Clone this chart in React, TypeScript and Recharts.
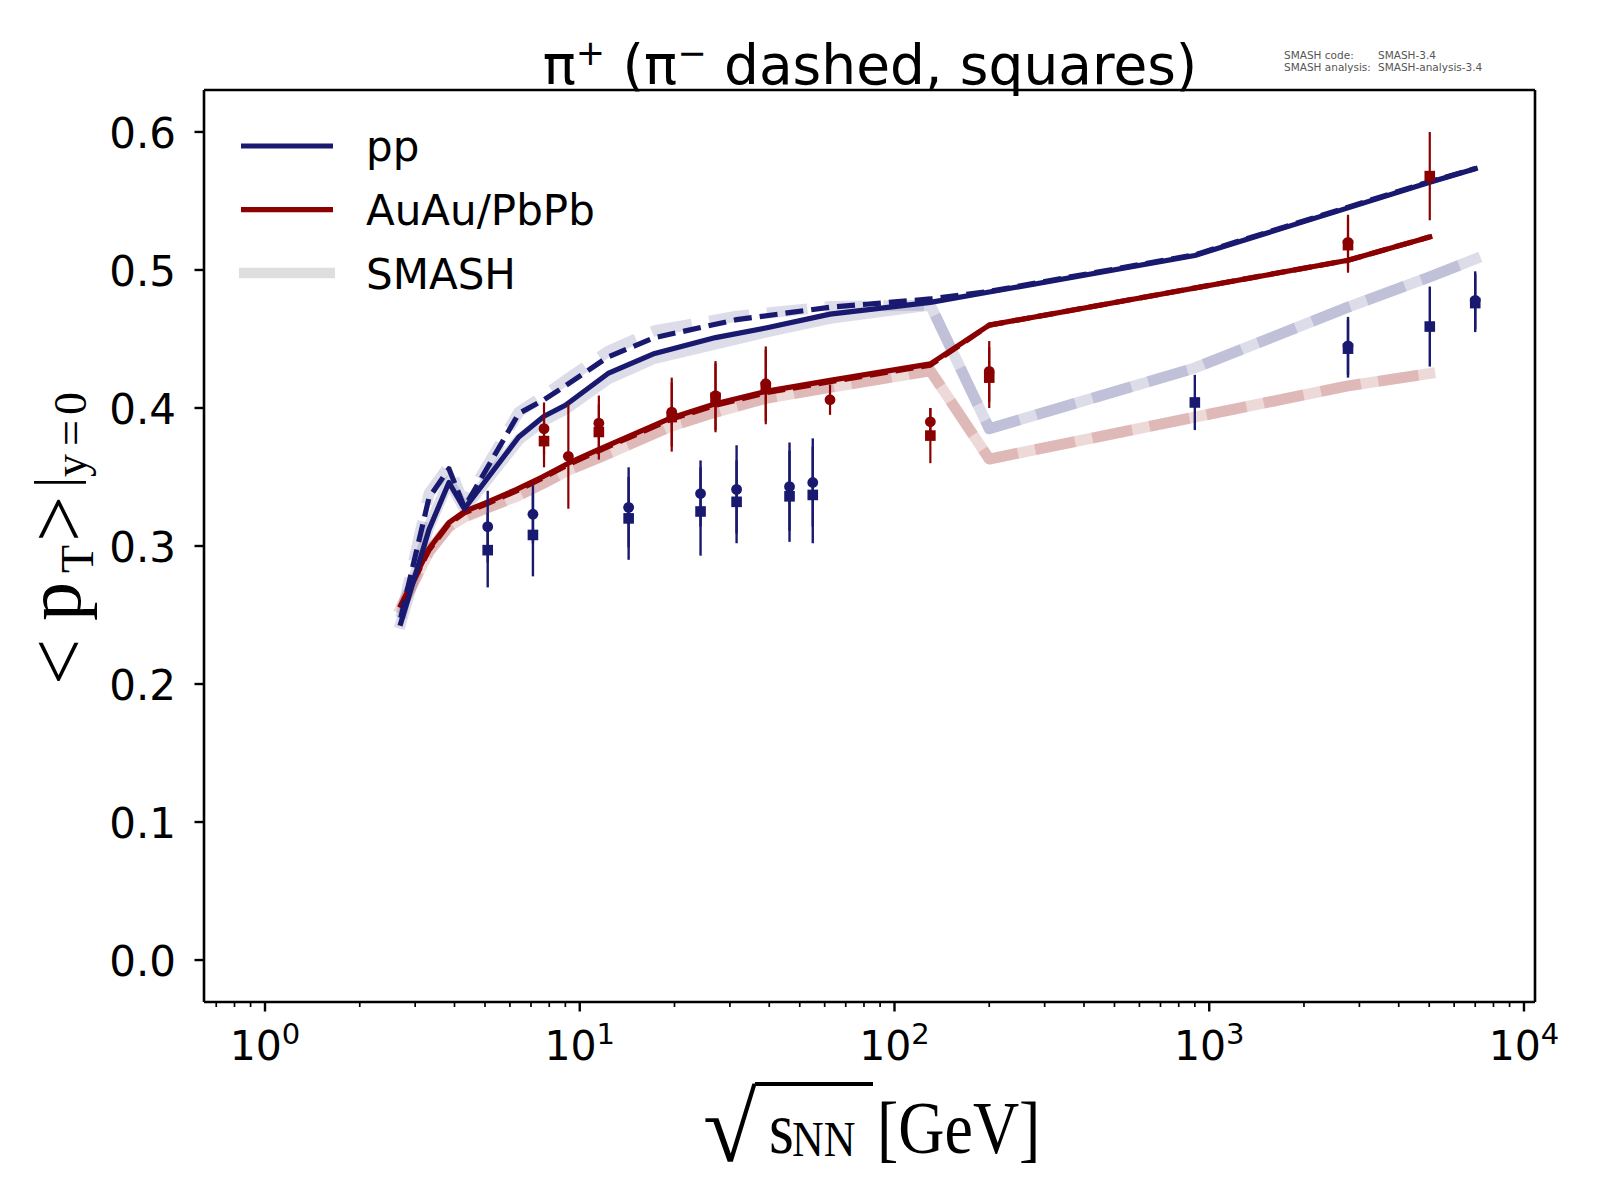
import React from 'react';
import { ComposedChart, Line, Scatter, XAxis, YAxis, ErrorBar, ReferenceLine } from 'recharts';

// ---------- colours ----------
const NAVY = '#191970';
const DARKRED = '#8b0000';

// ---------- axis ticks ----------
const X_MAJOR = [1, 10, 100, 1000, 10000];
const X_MAJOR_EXP = ['0', '1', '2', '3', '4'];
const X_MINOR = [0.7, 0.8, 0.9, 2, 3, 4, 5, 6, 7, 8, 9, 20, 30, 40, 50, 60, 70, 80, 90,
  200, 300, 400, 500, 600, 700, 800, 900, 2000, 3000, 4000, 5000, 6000, 7000, 8000, 9000];
const Y_TICKS = [0, 0.1, 0.2, 0.3, 0.4, 0.5, 0.6];
const X_DOMAIN = [0.64, 10840];
const Y_DOMAIN = [-0.0304, 0.6304];

// ---------- model curves ----------
const ppPlusX = [2.70, 3.32, 3.84, 4.30, 6.4, 7.7, 9.0, 12.3, 17.3, 27, 39, 62.4, 130, 200, 900, 2760, 5020, 7000];
const ppPlusY = [0.244, 0.312, 0.346, 0.327, 0.379, 0.394, 0.402, 0.425, 0.4395, 0.451, 0.458, 0.468, 0.4765, 0.484, 0.5105, 0.545, 0.5636, 0.5733];

const ppMinusX = [2.70, 3.32, 3.84, 4.30, 6.4, 7.7, 9.0, 12.3, 17.3, 31.5, 62.4, 130, 200, 900, 2760, 5020, 7000];
const ppMinusY = [0.248, 0.335, 0.356, 0.328, 0.396, 0.406, 0.416, 0.437, 0.451, 0.464, 0.473, 0.479, 0.4845, 0.511, 0.5455, 0.564, 0.5735];

const aaPlusX = [2.70, 3.32, 3.84, 4.30, 5.0, 6.3, 7.6, 9.2, 11.5, 19.6, 27, 39, 62.4, 130, 200, 2760, 5020];
const aaPlusY = [0.257, 0.298, 0.317, 0.325, 0.331, 0.341, 0.350, 0.360, 0.370, 0.393, 0.403, 0.412, 0.420, 0.432, 0.460, 0.507, 0.524];

const aaMinusX = [2.70, 3.32, 3.84, 4.30, 5.0, 6.3, 7.6, 9.2, 11.5, 19.6, 27, 39, 62.4, 130, 200, 2760, 5020];
const aaMinusY = [0.256, 0.297, 0.316, 0.324, 0.330, 0.340, 0.349, 0.359, 0.369, 0.392, 0.402, 0.411, 0.419, 0.431, 0.460, 0.507, 0.524];

// ---------- SMASH curves ----------
const smPpPlusX = [2.70, 3.32, 3.84, 4.30, 6.4, 7.7, 9.0, 12.3, 17.3, 39, 62.4, 130, 200, 900, 2760, 5020, 7000];
const smPpPlusY = [0.244, 0.314, 0.347, 0.327, 0.377, 0.391, 0.399, 0.421, 0.436, 0.455, 0.465, 0.4745, 0.385, 0.429, 0.473, 0.495, 0.508];

const smPpMinusX = [2.70, 3.32, 3.84, 4.30, 6.4, 7.7, 9.0, 12.3, 17.3, 31.5, 62.4, 130, 200, 900, 2760, 5020, 7000];
const smPpMinusY = [0.248, 0.338, 0.358, 0.330, 0.397, 0.409, 0.420, 0.441, 0.456, 0.4665, 0.4735, 0.4745, 0.385, 0.429, 0.473, 0.495, 0.508];

const smAaPlusX = [2.70, 3.32, 3.84, 4.30, 5.0, 6.3, 7.6, 9.2, 11.5, 19.6, 27, 39, 62.4, 130, 200, 2760, 5020];
const smAaPlusY = [0.255, 0.296, 0.314, 0.321, 0.327, 0.336, 0.345, 0.355, 0.364, 0.387, 0.397, 0.407, 0.415, 0.427, 0.363, 0.416, 0.425];

const smAaMinusX = [2.70, 3.32, 3.84, 4.30, 5.0, 6.3, 7.6, 9.2, 11.5, 19.6, 27, 39, 62.4, 130, 200, 2760, 5020];
const smAaMinusY = [0.255, 0.296, 0.314, 0.321, 0.327, 0.336, 0.345, 0.355, 0.364, 0.387, 0.397, 0.407, 0.415, 0.427, 0.363, 0.416, 0.425];

// ---------- measured data ----------
const ppCircX = [5.1, 7.1, 14.3, 24.2, 31.5, 46.4, 55.0, 2760, 7000];
const ppCircY = [0.314, 0.323, 0.328, 0.338, 0.341, 0.343, 0.346, 0.445, 0.478];
const ppCircE = [0.026, 0.021, 0.029, 0.024, 0.032, 0.032, 0.032, 0.021, 0.021];

const ppSqX = [5.1, 7.1, 14.3, 24.2, 31.5, 46.4, 55.0, 900, 2760, 5020, 7000];
const ppSqY = [0.297, 0.308, 0.320, 0.325, 0.332, 0.336, 0.337, 0.404, 0.443, 0.459, 0.476];
const ppSqE = [0.027, 0.030, 0.030, 0.032, 0.030, 0.033, 0.035, 0.020, 0.021, 0.029, 0.021];

const aaCircX = [7.7, 9.2, 11.5, 19.6, 27, 39, 62.4, 130, 200, 2760];
const aaCircY = [0.385, 0.365, 0.389, 0.397, 0.409, 0.4176, 0.406, 0.390, 0.4265, 0.520];
const aaCircE = [0.019, 0.038, 0.020, 0.025, 0.025, 0.027, 0.011, 0.010, 0.022, 0.020];

const aaSqX = [7.7, 11.5, 19.6, 27, 39, 130, 200, 2760, 5020];
const aaSqY = [0.376, 0.3826, 0.3934, 0.4074, 0.4152, 0.380, 0.422, 0.518, 0.568];
const aaSqE = [0.019, 0.020, 0.025, 0.025, 0.027, 0.020, 0.022, 0.020, 0.032];

const zip = (xs: number[], ys: number[]) => xs.map((x, i) => ({ x, y: ys[i] }));
const zipE = (xs: number[], ys: number[], es: number[]) => xs.map((x, i) => ({ x, y: ys[i], e: es[i] }));

const SANS = "'DejaVu Sans', sans-serif";
const SERIF = "'Liberation Serif', 'DejaVu Serif', serif";

const LW = 5.2;
const SW = 11;
const DASH = '18 8';
const SDASH = '40.7 17.6';

function XTick(props: any) {
  const { x, y, payload } = props;
  const v = payload.value;
  const idx = X_MAJOR.indexOf(v);
  if (idx < 0) {
    return <line x1={x} x2={x} y1={y} y2={y + 5} stroke="#000" strokeWidth={1.7} />;
  }
  return (
    <g>
      <line x1={x} x2={x} y1={y} y2={y + 9.5} stroke="#000" strokeWidth={2.4} />
      <text x={x} y={y + 58} textAnchor="middle" fontFamily={SANS} fontSize={41} fill="#000">
        10<tspan dy={-16} fontSize={29}>{X_MAJOR_EXP[idx]}</tspan>
      </text>
    </g>
  );
}

function YTick(props: any) {
  const { x, y, payload } = props;
  return (
    <g>
      <line x1={x - 9.5} x2={x} y1={y} y2={y} stroke="#000" strokeWidth={2.4} />
      <text x={x - 28} y={y + 16} textAnchor="end" fontFamily={SANS} fontSize={42} fill="#000">
        {Number(payload.value).toFixed(1)}
      </text>
    </g>
  );
}

const circleShape = (color: string) => (p: any) =>
  <circle cx={p.cx} cy={p.cy} r={5.4} fill={color} />;
const squareShape = (color: string) => (p: any) =>
  <rect x={p.cx - 5.3} y={p.cy - 5.3} width={10.6} height={10.6} fill={color} />;

export default function App() {
  const axisLine = { stroke: '#000', strokeWidth: 2.6 };
  return (
    <div style={{ position: 'absolute', left: 0, top: 0, width: 1600, height: 1200, background: '#fff' }}>
      <ComposedChart width={1600} height={1200} margin={{ top: 90, right: 65, bottom: 138, left: 0 }}>
        <XAxis xAxisId="main" dataKey="x" type="number" scale="log" domain={X_DOMAIN} allowDataOverflow
          ticks={[...X_MAJOR, ...X_MINOR]} interval={0} tick={(p: any) => <XTick {...p} />}
          tickLine={false} tickSize={0} tickMargin={0} height={60} axisLine={axisLine} />
        <YAxis yAxisId="main" dataKey="y" type="number" domain={Y_DOMAIN} allowDataOverflow
          ticks={Y_TICKS} interval={0} tick={(p: any) => <YTick {...p} />}
          tickLine={false} tickSize={0} tickMargin={0} width={204} axisLine={axisLine} />

        {/* top and right frame */}
        <ReferenceLine xAxisId="main" yAxisId="main" y={Y_DOMAIN[1]} stroke="#000" strokeWidth={2.6} ifOverflow="visible" />
        <ReferenceLine xAxisId="main" yAxisId="main" x={X_DOMAIN[1]} stroke="#000" strokeWidth={2.6} ifOverflow="visible" />

        {/* SMASH bands */}
        <Line xAxisId="main" yAxisId="main" data={zip(smPpPlusX, smPpPlusY)} dataKey="y" type="linear"
          stroke={NAVY} strokeOpacity={0.15} strokeWidth={SW} strokeLinecap="square" strokeLinejoin="round"
          dot={false} activeDot={false} isAnimationActive={false} />
        <Line xAxisId="main" yAxisId="main" data={zip(smPpMinusX, smPpMinusY)} dataKey="y" type="linear"
          stroke={NAVY} strokeOpacity={0.15} strokeWidth={SW} strokeDasharray={SDASH} strokeLinecap="butt" strokeLinejoin="round"
          dot={false} activeDot={false} isAnimationActive={false} />
        <Line xAxisId="main" yAxisId="main" data={zip(smAaPlusX, smAaPlusY)} dataKey="y" type="linear"
          stroke={DARKRED} strokeOpacity={0.15} strokeWidth={SW} strokeLinecap="square" strokeLinejoin="round"
          dot={false} activeDot={false} isAnimationActive={false} />
        <Line xAxisId="main" yAxisId="main" data={zip(smAaMinusX, smAaMinusY)} dataKey="y" type="linear"
          stroke={DARKRED} strokeOpacity={0.15} strokeWidth={SW} strokeDasharray={SDASH} strokeLinecap="butt" strokeLinejoin="round"
          dot={false} activeDot={false} isAnimationActive={false} />

        {/* model curves */}
        <Line xAxisId="main" yAxisId="main" data={zip(aaMinusX, aaMinusY)} dataKey="y" type="linear"
          stroke={DARKRED} strokeWidth={LW} strokeDasharray={DASH} strokeLinecap="butt" strokeLinejoin="round"
          dot={false} activeDot={false} isAnimationActive={false} />
        <Line xAxisId="main" yAxisId="main" data={zip(aaPlusX, aaPlusY)} dataKey="y" type="linear"
          stroke={DARKRED} strokeWidth={LW} strokeLinecap="square" strokeLinejoin="round"
          dot={false} activeDot={false} isAnimationActive={false} />
        <Line xAxisId="main" yAxisId="main" data={zip(ppPlusX, ppPlusY)} dataKey="y" type="linear"
          stroke={NAVY} strokeWidth={LW} strokeLinecap="square" strokeLinejoin="round"
          dot={false} activeDot={false} isAnimationActive={false} />
        <Line xAxisId="main" yAxisId="main" data={zip(ppMinusX, ppMinusY)} dataKey="y" type="linear"
          stroke={NAVY} strokeWidth={LW} strokeDasharray={DASH} strokeLinecap="butt" strokeLinejoin="round"
          dot={false} activeDot={false} isAnimationActive={false} />

        {/* measurements */}
        <Scatter xAxisId="main" yAxisId="main" data={zipE(ppSqX, ppSqY, ppSqE)} dataKey="y"
          shape={squareShape(NAVY)} isAnimationActive={false}>
          <ErrorBar dataKey="e" direction="y" width={0} stroke={NAVY} strokeWidth={2.4} />
        </Scatter>
        <Scatter xAxisId="main" yAxisId="main" data={zipE(ppCircX, ppCircY, ppCircE)} dataKey="y"
          shape={circleShape(NAVY)} isAnimationActive={false}>
          <ErrorBar dataKey="e" direction="y" width={0} stroke={NAVY} strokeWidth={2.4} />
        </Scatter>
        <Scatter xAxisId="main" yAxisId="main" data={zipE(aaSqX, aaSqY, aaSqE)} dataKey="y"
          shape={squareShape(DARKRED)} isAnimationActive={false}>
          <ErrorBar dataKey="e" direction="y" width={0} stroke={DARKRED} strokeWidth={2.2} />
        </Scatter>
        <Scatter xAxisId="main" yAxisId="main" data={zipE(aaCircX, aaCircY, aaCircE)} dataKey="y"
          shape={circleShape(DARKRED)} isAnimationActive={false}>
          <ErrorBar dataKey="e" direction="y" width={0} stroke={DARKRED} strokeWidth={2.2} />
        </Scatter>
      </ComposedChart>

      <svg width={1600} height={1200} style={{ position: 'absolute', left: 0, top: 0, pointerEvents: 'none' }}>
        {/* title */}
        <text x={870} y={84} textAnchor="middle" fontFamily={SANS} fontSize={55} fill="#000" style={{ whiteSpace: 'pre' }}>
          π<tspan dy={-19} fontSize={35}>+</tspan><tspan dy={19}> (π</tspan><tspan dy={-19} fontSize={35}>−</tspan><tspan dy={19}> dashed, squares)</tspan>
        </text>

        {/* SMASH version note */}
        <g fontFamily={SANS} fontSize={10.5} fill="#555">
          <text x={1284} y={59}>SMASH code:</text>
          <text x={1378} y={59}>SMASH-3.4</text>
          <text x={1284} y={70.5}>SMASH analysis:</text>
          <text x={1378} y={70.5}>SMASH-analysis-3.4</text>
        </g>

        {/* legend */}
        <line x1={241} x2={333} y1={146} y2={146} stroke={NAVY} strokeWidth={LW} />
        <text x={366} y={161} fontFamily={SANS} fontSize={42} fill="#000">pp</text>
        <line x1={241} x2={333} y1={209.7} y2={209.7} stroke={DARKRED} strokeWidth={LW} />
        <text x={366} y={225} fontFamily={SANS} fontSize={42} fill="#000">AuAu/PbPb</text>
        <line x1={239} x2={335} y1={273} y2={273} stroke="#dedede" strokeWidth={10.7} />
        <text x={366} y={288.5} fontFamily={SANS} fontSize={42} fill="#000">SMASH</text>

        {/* x label */}
        <text x={703} y={1161} fontFamily={SERIF} fontSize={98} fill="#000">√</text>
        <line x1={755} x2={873} y1={1084} y2={1084} stroke="#000" strokeWidth={4} />
        <g transform="translate(0,1153) scale(1,1.15) translate(0,-1153)" fontFamily={SERIF} fill="#000">
          <text x={769} y={1153} fontSize={64}>s</text>
          <text x={792} y={1156} fontSize={44}>NN</text>
          <text x={877} y={1153} fontSize={64}>[GeV]</text>
        </g>

        {/* y label */}
        <g transform="translate(80,685) rotate(-90)" fontFamily={SERIF} fill="#000">
          <text x={0} y={6} fontSize={82}>&lt;</text>
          <text x={64} y={0} fontSize={78}>p</text>
          <text x={112} y={13} fontSize={46}>T</text>
          <text x={143} y={6} fontSize={82}>&gt;</text>
          <text x={197} y={-6} fontSize={56}>|</text>
          <text x={208} y={6} fontSize={46}>y</text>
          <text x={239} y={6} fontSize={46}>=</text>
          <text x={270} y={6} fontSize={46}>0</text>
        </g>
      </svg>
    </div>
  );
}
